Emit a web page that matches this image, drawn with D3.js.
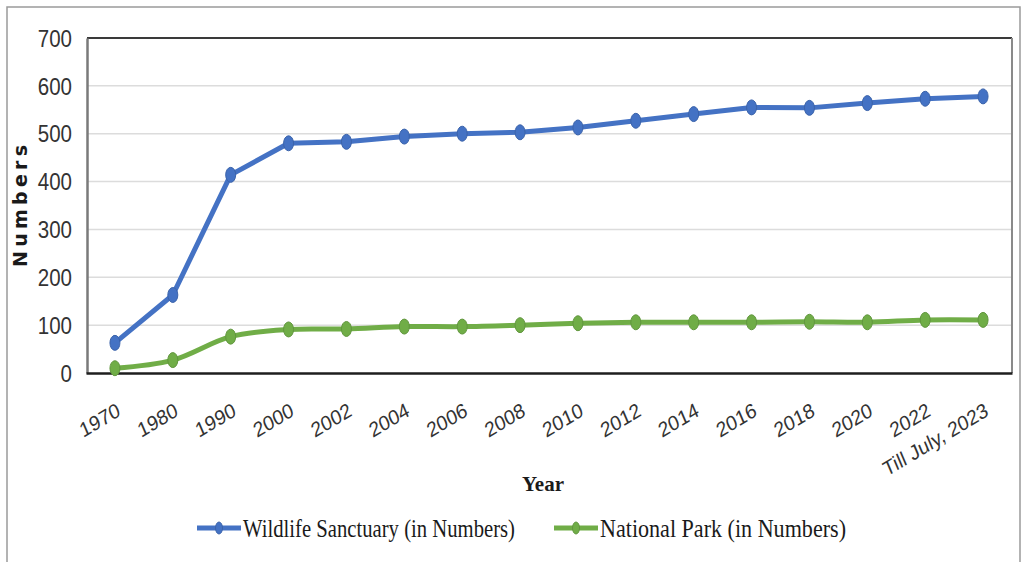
<!DOCTYPE html>
<html>
<head>
<meta charset="utf-8">
<script src="https://cdn.jsdelivr.net/npm/d3@7"></script>
<style>
  html, body { margin: 0; padding: 0; background: #ffffff; }
  svg { display: block; }
</style>
</head>
<body>
<svg id="chart" width="1024" height="562"></svg>
<script>
// Protected areas in India over time
const categories = ["1970", "1980", "1990", "2000", "2002", "2004", "2006", "2008",
  "2010", "2012", "2014", "2016", "2018", "2020", "2022", "Till July, 2023"];
const wildlifeSanctuaries = [63, 163, 414, 480, 483, 494, 500, 503, 513, 527, 541, 555, 554, 564, 573, 578];
const nationalParks = [10, 27, 76, 91, 92, 97, 97, 100, 104, 106, 106, 106, 107, 106, 111, 111];
const yTicks = [0, 100, 200, 300, 400, 500, 600, 700];
const seriesNames = ["Wildlife Sanctuary (in Numbers)", "National Park (in Numbers)"];
const seriesColors = ["#4472C4", "#70AD47"];

const svg = d3.select("#chart");
const plot = { left: 87, right: 1012, top: 38, bottom: 373 };

// outer frame
svg.append("rect")
  .attr("x", 7).attr("y", 7).attr("width", 1013).attr("height", 620)
  .attr("fill", "none").attr("stroke", "#9a9a9a").attr("stroke-width", 1.5);

const x = d3.scalePoint().domain(categories)
  .range([plot.left - 1, plot.right]).padding(0.5);
const y = d3.scaleLinear().domain([0, 700]).range([plot.bottom, plot.top]);

// horizontal gridlines
svg.append("g").selectAll("line")
  .data(yTicks.filter(t => t > 0 && t < 700))
  .join("line")
  .attr("x1", plot.left).attr("x2", plot.right)
  .attr("y1", d => y(d)).attr("y2", d => y(d))
  .attr("stroke", "#dcdcdc").attr("stroke-width", 1.5);

// plot frame
svg.append("line").attr("x1", plot.left).attr("x2", plot.right)
  .attr("y1", plot.top).attr("y2", plot.top)
  .attr("stroke", "#3a3a3a").attr("stroke-width", 2);
svg.append("line").attr("x1", plot.right).attr("x2", plot.right)
  .attr("y1", plot.top).attr("y2", plot.bottom)
  .attr("stroke", "#8a8a8a").attr("stroke-width", 2);

// y axis
const yAxis = svg.append("g")
  .attr("transform", `translate(${plot.left},0)`)
  .call(d3.axisLeft(y).tickValues(yTicks).tickSize(0).tickPadding(15));
yAxis.select(".domain").attr("stroke", "#7a7a7a").attr("stroke-width", 2.5);
yAxis.selectAll("text")
  .attr("font-family", "'Liberation Sans', Arial, sans-serif")
  .attr("font-size", 23)
  .attr("fill", "#333333")
  .attr("textLength", d => String(d).length * 11.4)
  .attr("lengthAdjust", "spacingAndGlyphs")
  .attr("dy", "0.36em");

// x axis
const xAxis = svg.append("g")
  .attr("transform", `translate(0,${plot.bottom})`)
  .call(d3.axisBottom(x).tickSize(0).tickPadding(0));
xAxis.select(".domain").attr("stroke", "#1e1e1e").attr("stroke-width", 2.5);
xAxis.selectAll("text")
  .attr("font-family", "'Liberation Sans', Arial, sans-serif")
  .attr("font-size", 20)
  .attr("fill", "#333333")
  .attr("text-anchor", "end")
  .attr("x", 0).attr("y", 0).attr("dy", 0)
  .attr("transform", "translate(6,42) rotate(-31) skewX(-8)");

// series lines and markers
const series = [
  { values: wildlifeSanctuaries, color: seriesColors[0], curve: d3.curveLinear },
  { values: nationalParks, color: seriesColors[1], curve: d3.curveCatmullRom }
];
series.forEach(s => {
  const line = d3.line()
    .x((d, i) => x(categories[i]))
    .y(d => y(d))
    .curve(s.curve);
  svg.append("path")
    .datum(s.values)
    .attr("d", line)
    .attr("fill", "none")
    .attr("stroke", s.color)
    .attr("stroke-width", 5)
    .attr("stroke-linejoin", "round");
  svg.append("g").selectAll("ellipse")
    .data(s.values)
    .join("ellipse")
    .attr("cx", (d, i) => x(categories[i]))
    .attr("cy", d => y(d))
    .attr("rx", 5).attr("ry", 7.5)
    .attr("fill", s.color)
    .attr("stroke", d3.color(s.color).darker(0.4))
    .attr("stroke-width", 1);
});

// axis titles
svg.append("text")
  .attr("x", 543).attr("y", 491)
  .attr("text-anchor", "middle")
  .attr("font-family", "'Liberation Serif', 'Times New Roman', serif")
  .attr("font-weight", "bold")
  .attr("font-size", 22)
  .attr("textLength", 42)
  .attr("lengthAdjust", "spacingAndGlyphs")
  .attr("fill", "#1a1a1a")
  .text("Year");

svg.append("text")
  .attr("transform", "translate(27,206) rotate(-90)")
  .attr("text-anchor", "middle")
  .attr("font-family", "'DejaVu Sans', sans-serif")
  .attr("font-weight", "bold")
  .attr("font-size", 19)
  .attr("textLength", 122)
  .attr("lengthAdjust", "spacing")
  .attr("fill", "#1a1a1a")
  .text("Numbers");

// legend
const legendItems = [
  { name: seriesNames[0], color: seriesColors[0], x: 197, width: 272 },
  { name: seriesNames[1], color: seriesColors[1], x: 554, width: 246 }
];
const legend = svg.append("g");
legendItems.forEach(item => {
  const g = legend.append("g").attr("transform", `translate(${item.x},528)`);
  g.append("line").attr("x1", 0).attr("x2", 44).attr("y1", 0).attr("y2", 0)
    .attr("stroke", item.color).attr("stroke-width", 5);
  g.append("ellipse").attr("cx", 22).attr("cy", 0).attr("rx", 3.5).attr("ry", 6)
    .attr("fill", item.color).attr("stroke", d3.color(item.color).darker(0.4));
  g.append("text")
    .attr("x", 46).attr("y", 9)
    .attr("font-family", "'Liberation Serif', 'Times New Roman', serif")
    .attr("font-size", 25)
    .attr("textLength", item.width)
    .attr("lengthAdjust", "spacingAndGlyphs")
    .attr("fill", "#1a1a1a")
    .text(item.name);
});
</script>
</body>
</html>
